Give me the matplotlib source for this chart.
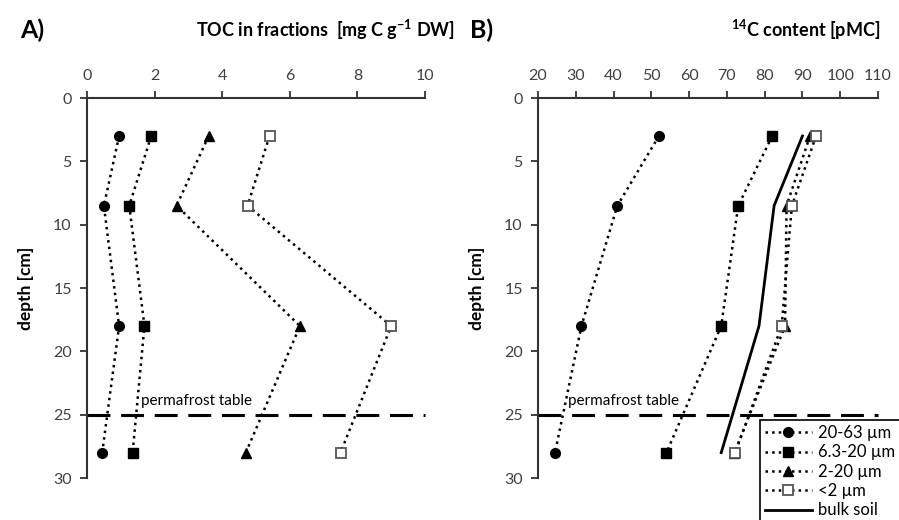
import matplotlib
matplotlib.use('Agg')
import matplotlib.pyplot as plt
import numpy as np

plt.rcParams.update({'font.family': ['Lato', 'DejaVu Sans'],
                     'mathtext.fontset': 'custom',
                     'mathtext.rm': 'Lato',
                     'mathtext.bf': 'Lato:bold',
                     'mathtext.default': 'bf'})

#%%  Data
depth = [3, 8.5, 18, 28]

toc_20_63 = [0.95, 0.5, 0.95, 0.45]
toc_6_20  = [1.9, 1.25, 1.7, 1.35]
toc_2_20  = [3.6, 2.65, 6.3, 4.7]
toc_lt2   = [5.4, 4.75, 9.0, 7.5]

c14_20_63 = [52, 41, 31.5, 24.5]
c14_6_20  = [82, 73, 68.5, 54]
c14_2_20  = [92, 85.8, 85.4, 72]
c14_lt2   = [93.6, 87.2, 84.5, 72.2]
c14_bulk  = [90, 82.5, 78.5, 68.5]

labels = ['20-63 µm', '6.3-20 µm', '2-20 µm', '<2 µm', 'bulk soil']
permafrost = 25

#%%  Plotting
fig = plt.figure(figsize=(8.99, 5.20), dpi=100)
axA = fig.add_axes([87/899, 42/520, 338/899, 380/520])
axB = fig.add_axes([538/899, 42/520, 340/899, 380/520])

tick_col = '#404040'
styles = [dict(marker='o', ms=7, mfc='k', mec='k'),
          dict(marker='s', ms=7, mfc='k', mec='k'),
          dict(marker='^', ms=7.5, mfc='k', mec='k'),
          dict(marker='s', ms=6.5, mfc='white', mec='#555555', mew=1.3)]

for ax, series in [(axA, [toc_20_63, toc_6_20, toc_2_20, toc_lt2]),
                   (axB, [c14_20_63, c14_6_20, c14_2_20, c14_lt2])]:
    for s, st, lab in zip(series, styles, labels):
        ax.plot(s, depth, ls=':', lw=1.8, color='k', label=lab, **st)

lb, = axB.plot(c14_bulk, depth, '-', color='k', lw=2, label=labels[4])

for ax, xlim, xt in [(axA, (0, 10), np.arange(0, 11, 2)),
                     (axB, (20, 110), np.arange(20, 111, 10))]:
    ax.axhline(permafrost, color='k', ls=(0, (7.5, 3.5)), lw=2.2, clip_on=False)
    ax.set_xlim(xlim)
    ax.set_ylim(30, 0)
    ax.set_xticks(xt)
    ax.set_yticks(np.arange(0, 31, 5))
    ax.xaxis.tick_top()
    for sp in ['right', 'bottom']:
        ax.spines[sp].set_visible(False)
    for sp in ['top', 'left']:
        ax.spines[sp].set_color('#333333')
        ax.spines[sp].set_linewidth(1.5)
    ax.tick_params(direction='out', length=5, width=1.3, color='#333333',
                   labelsize=11.5, labelcolor=tick_col, pad=6)
    ax.set_ylabel('depth [cm]', fontsize=12.5, fontweight='bold', labelpad=14)

axA.text(1.6, 23.9, 'permafrost table', fontsize=11, va='center')
axB.text(28, 23.9, 'permafrost table', fontsize=11, va='center')

# Panel titles
fig.text(20/899, 1-30/520, 'A)', fontsize=18, fontweight='bold', va='center')
fig.text(455/899, 1-30/520, r'TOC in fractions  [mg C g$^{-1}$ DW]',
         fontsize=13, fontweight='bold', va='center', ha='right')
fig.text(470/899, 1-30/520, 'B)', fontsize=18, fontweight='bold', va='center')
fig.text(880/899, 1-30/520, r'$^{14}$C content [pMC]',
         fontsize=13, fontweight='bold', va='center', ha='right')

# Legend
handles, labs = axB.get_legend_handles_labels()
leg = fig.legend(handles, labs, loc='upper left', bbox_to_anchor=(760/899, 1-420/520),
                 numpoints=1, handlelength=2.8, handletextpad=0.35, labelspacing=0.2,
                 fontsize=12, fancybox=False, edgecolor='k', borderpad=0.3,
                 borderaxespad=0, framealpha=1)
leg.get_frame().set_linewidth(1.2)

plt.savefig('out.png', dpi=100)
